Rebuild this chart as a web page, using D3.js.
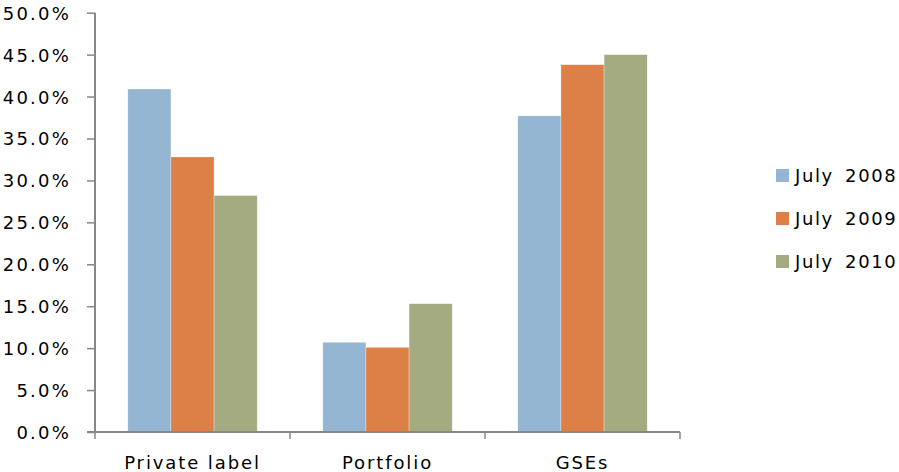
<!DOCTYPE html>
<html>
<head>
<meta charset="utf-8">
<script src="https://cdn.jsdelivr.net/npm/d3@7"></script>
<style>
  html, body { margin: 0; padding: 0; background: #fff; }
  svg { display: block; }
  text { font-family: "DejaVu Sans", sans-serif; fill: #000; }
</style>
</head>
<body>
<svg id="chart" width="899" height="472"></svg>
<script>
// Categories, series and values
const categories = ["Private label", "Portfolio", "GSEs"];
const seriesNames = ["July 2008", "July 2009", "July 2010"];
const july2008 = [40.9, 10.7, 37.7];
const july2009 = [32.8, 10.1, 43.8];
const july2010 = [28.2, 15.3, 45.0];
const yTicks = [0, 5, 10, 15, 20, 25, 30, 35, 40, 45, 50];
const colors = ["#94B6D2", "#DD8047", "#A5AB81"];

const seriesValues = [july2008, july2009, july2010];

const svg = d3.select("#chart");
const plot = { left: 95, right: 680, top: 12.7, bottom: 432 };

const x = d3.scaleBand()
  .domain(categories)
  .range([plot.left, plot.right])
  .paddingInner(0)
  .paddingOuter(0);

const x1 = d3.scaleBand()
  .domain(seriesNames)
  .range([0, x.bandwidth()])
  .paddingInner(0)
  .paddingOuter(0.76);

const y = d3.scaleLinear()
  .domain([0, 50])
  .range([plot.bottom, plot.top]);

// Bars
const groups = svg.append("g")
  .selectAll("g")
  .data(categories)
  .join("g")
  .attr("transform", d => `translate(${x(d)},0)`);

groups.selectAll("rect")
  .data((c, i) => seriesNames.map((s, j) => ({ s, v: seriesValues[j][i], j })))
  .join("rect")
  .attr("x", d => x1(d.s))
  .attr("width", x1.bandwidth())
  .attr("y", d => y(d.v))
  .attr("height", d => y(0) - y(d.v))
  .attr("fill", d => colors[d.j])
  .attr("stroke", "#fff")
  .attr("stroke-opacity", 0.5)
  .attr("stroke-width", 0.6);

// Y axis
const yAxis = d3.axisLeft(y)
  .tickValues(yTicks)
  .tickSize(8)
  .tickPadding(16)
  .tickFormat(d => d3.format(".1f")(d) + "%");

const yg = svg.append("g")
  .attr("transform", `translate(${plot.left},0)`)
  .call(yAxis);
yg.select(".domain").attr("stroke", "#878787").attr("stroke-width", 2)
  .attr("d", `M0,${plot.top}V${plot.bottom}`);
yg.selectAll(".tick line").attr("stroke", "#878787").attr("stroke-width", 1.5);
yg.selectAll(".tick text")
  .style("font-family", "'DejaVu Sans', sans-serif")
  .style("font-size", "18px")
  .style("letter-spacing", "2.2px")
  .attr("dy", "0.36em");

// X axis with ticks at category boundaries
const xAxis = d3.axisBottom(x).tickSize(0).tickPadding(24);
const xg = svg.append("g")
  .attr("transform", `translate(0,${plot.bottom})`)
  .call(xAxis);
xg.select(".domain").attr("stroke", "#878787").attr("stroke-width", 2)
  .attr("d", `M${plot.left - 8},0H${plot.right}`);
xg.selectAll(".tick text")
  .style("font-family", "'DejaVu Sans', sans-serif")
  .style("font-size", "18px")
  .style("letter-spacing", "1.9px")
  .attr("dy", "0.71em");

const boundaries = categories.map(c => x(c)).concat([x.range()[1]]);
xg.selectAll(".bound")
  .data(boundaries)
  .join("line")
  .attr("class", "bound")
  .attr("x1", d => d).attr("x2", d => d)
  .attr("y1", 0).attr("y2", 7)
  .attr("stroke", "#878787")
  .attr("stroke-width", 1.5);

// Legend
const legend = svg.append("g").attr("transform", "translate(776,169)");
const rowGap = 43;
seriesNames.forEach((name, i) => {
  const g = legend.append("g").attr("transform", `translate(0,${i * rowGap})`);
  g.append("rect")
    .attr("width", 13).attr("height", 13)
    .attr("fill", colors[i]);
  g.append("text")
    .attr("x", 19).attr("y", 6.5)
    .attr("dy", "0.36em")
    .style("font-size", "18px")
    .style("letter-spacing", "1.6px")
    .style("word-spacing", "4px")
    .text(name);
});
</script>
</body>
</html>
